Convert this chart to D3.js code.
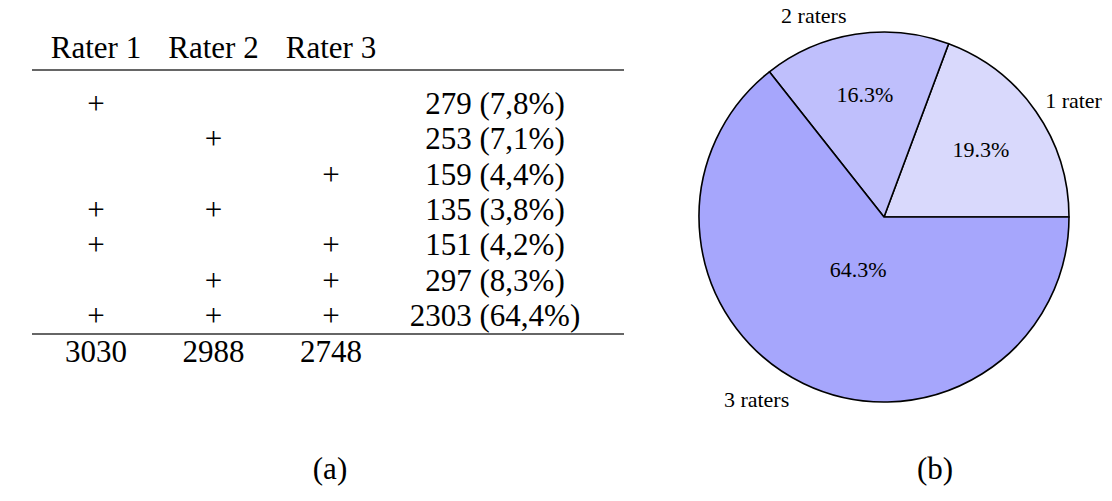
<!DOCTYPE html>
<html>
<head>
<meta charset="utf-8">
<script src="https://cdn.jsdelivr.net/npm/d3@7"></script>
<style>
  html, body { margin: 0; padding: 0; background: #fff; }
  svg { display: block; }
</style>
</head>
<body>
<svg id="chart" width="1112" height="501" font-family="Liberation Serif"></svg>
<script>
// ---- Table data (a) ----
const raterHeaders = ["Rater 1", "Rater 2", "Rater 3"];
const rowMarks = [
  [1, 0, 0],
  [0, 1, 0],
  [0, 0, 1],
  [1, 1, 0],
  [1, 0, 1],
  [0, 1, 1],
  [1, 1, 1]
];
const rowCounts = [279, 253, 159, 135, 151, 297, 2303];
const rowPercents = ["7,8%", "7,1%", "4,4%", "3,8%", "4,2%", "8,3%", "64,4%"];
const raterTotals = [3030, 2988, 2748];

// ---- Pie data (b) ----
const pieLabels = ["1 rater", "2 raters", "3 raters"];
const pieValues = [19.3, 16.3, 64.3];
const pieColors = ["#d9d9fc", "#bfbffc", "#a6a6fc"];

const FONT = "'Liberation Serif', 'DejaVu Serif', serif";
const svg = d3.select("#chart");

// ================= TABLE =================
const tableFont = 31;
const colX = d3.scalePoint().domain([0, 1, 2]).range([96, 331]);
const countColX = 495;
const rowY = d3.scaleLinear().domain([0, rowCounts.length - 1]).range([114, 326]);
const headerY = 58;
const ruleLeft = 32, ruleRight = 624;
const topRuleY = 70, bottomRuleY = 334;
const totalsY = 362;

const tbl = svg.append("g").attr("class", "table");

function txt(sel) {
  return sel.attr("font-family", FONT).style("font-family", FONT).attr("fill", "#000");
}

txt(tbl.selectAll("text.hdr").data(raterHeaders).join("text"))
  .attr("class", "hdr")
  .attr("x", (d, i) => colX(i)).attr("y", headerY)
  .attr("text-anchor", "middle").attr("font-size", tableFont)
  .text(d => d);

tbl.append("line").attr("x1", ruleLeft).attr("x2", ruleRight)
  .attr("y1", topRuleY).attr("y2", topRuleY)
  .attr("stroke", "#333").attr("stroke-width", 1.6);

const rows = tbl.selectAll("g.row").data(rowMarks).join("g").attr("class", "row");
rows.each(function (marks, r) {
  const g = d3.select(this);
  marks.forEach((m, c) => {
    if (m) {
      txt(g.append("text")).attr("x", colX(c)).attr("y", rowY(r))
        .attr("text-anchor", "middle").attr("font-size", tableFont)
        .text("+");
    }
  });
  txt(g.append("text")).attr("x", countColX).attr("y", rowY(r))
    .attr("text-anchor", "middle").attr("font-size", tableFont)
    .text(rowCounts[r] + " (" + rowPercents[r] + ")");
});

tbl.append("line").attr("x1", ruleLeft).attr("x2", ruleRight)
  .attr("y1", bottomRuleY).attr("y2", bottomRuleY)
  .attr("stroke", "#333").attr("stroke-width", 1.6);

txt(tbl.selectAll("text.tot").data(raterTotals).join("text"))
  .attr("class", "tot")
  .attr("x", (d, i) => colX(i)).attr("y", totalsY)
  .attr("text-anchor", "middle").attr("font-size", tableFont)
  .text(d => d);

txt(svg.append("text")).attr("x", 330).attr("y", 479)
  .attr("text-anchor", "middle").attr("font-size", tableFont).text("(a)");

// ================= PIE =================
const cx = 884, cy = 217, R = 185;
const pieG = svg.append("g").attr("transform", `translate(${cx},${cy})`);

const pie = d3.pie().value(d => d).sort(null)
  .startAngle(Math.PI / 2).endAngle(Math.PI / 2 - 2 * Math.PI);
const arcs = pie(pieValues);
const arc = d3.arc().innerRadius(0).outerRadius(R);

pieG.selectAll("path").data(arcs).join("path")
  .attr("d", arc)
  .attr("fill", (d, i) => pieColors[i])
  .attr("stroke", "#000").attr("stroke-width", 1.6)
  .attr("stroke-linejoin", "round");

// pgf-pie style label placement
function midMath(d) { // math angle (radians, CCW from east)
  const a = (d.startAngle + d.endAngle) / 2; // d3 angle, clockwise from north
  return Math.PI / 2 - a;
}
function spanDeg(d) { return Math.abs(d.endAngle - d.startAngle) * 180 / Math.PI; }
function numberRadius(d) {
  return Math.max(0.8 - 0.3 * (spanDeg(d) - 10) / 110, 0.32) * R;
}
const pieFont = 22;

txt(pieG.selectAll("text.pct").data(arcs).join("text"))
  .attr("class", "pct")
  .attr("x", d => Math.cos(midMath(d)) * numberRadius(d))
  .attr("y", d => -Math.sin(midMath(d)) * numberRadius(d))
  .attr("dy", "0.32em")
  .attr("text-anchor", "middle").attr("font-size", pieFont)
  .text(d => d.data.toFixed(1) + "%");

txt(pieG.selectAll("text.lbl").data(arcs).join("text"))
  .attr("class", "lbl")
  .attr("x", d => Math.cos(midMath(d)) * 1.1 * R - 6)
  .attr("y", d => -Math.sin(midMath(d)) * 1.1 * R)
  .attr("dy", "0.32em")
  .attr("text-anchor", d => Math.cos(midMath(d)) >= 0 ? "start" : "end")
  .attr("font-size", pieFont)
  .text((d, i) => pieLabels[i]);

txt(svg.append("text")).attr("x", 935).attr("y", 479)
  .attr("text-anchor", "middle").attr("font-size", tableFont).text("(b)");
</script>
</body>
</html>
